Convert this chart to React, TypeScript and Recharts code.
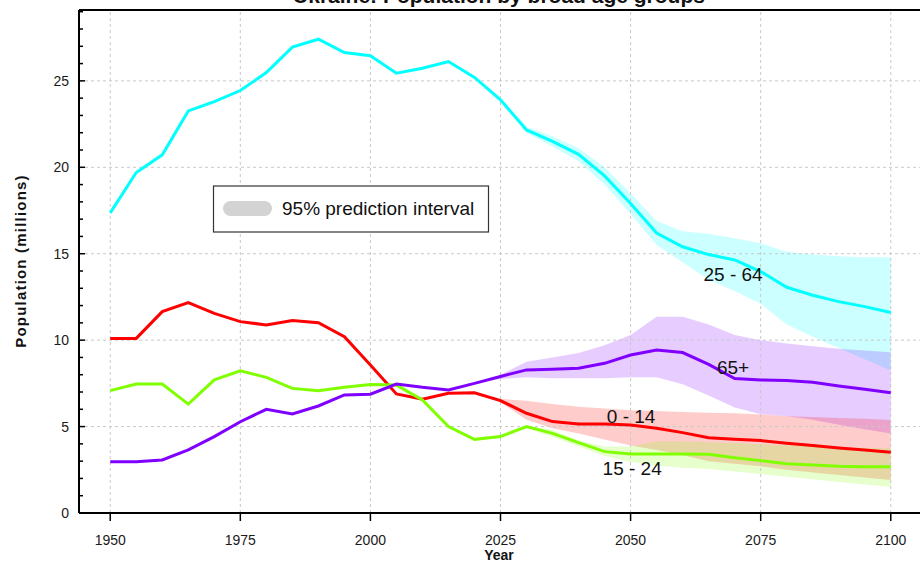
import { ComposedChart, Line, Area, XAxis, YAxis, ReferenceLine, ReferenceDot } from "recharts";

const years = [
  1950, 1955, 1960, 1965, 1970, 1975, 1980, 1985, 1990, 1995, 2000, 2005, 2010, 2015, 2020, 2025,
  2030, 2035, 2040, 2045, 2050, 2055, 2060, 2065, 2070, 2075, 2080, 2085, 2090, 2095, 2100,
];

const pop0to14 = [
  10.1, 10.1, 11.65, 12.17, 11.55, 11.07, 10.88, 11.13, 11.01, 10.2, 8.56, 6.89, 6.58, 6.93, 6.96, 6.5,
  5.77, 5.29, 5.15, 5.15, 5.09, 4.9, 4.65, 4.35, 4.27, 4.19, 4.03, 3.9, 3.76, 3.65, 3.51,
];
const pop15to24 = [
  7.08, 7.46, 7.46, 6.3, 7.7, 8.22, 7.85, 7.21, 7.08, 7.27, 7.44, 7.4, 6.54, 5.0, 4.26, 4.42,
  5.0, 4.61, 4.07, 3.55, 3.41, 3.41, 3.41, 3.4, 3.2, 3.03, 2.85, 2.78, 2.7, 2.68, 2.68,
];
const pop25to64 = [
  17.36, 19.7, 20.72, 23.26, 23.8, 24.44, 25.48, 26.95, 27.41, 26.64, 26.45, 25.44, 25.73, 26.12, 25.2, 23.9,
  22.16, 21.5, 20.75, 19.5, 17.9, 16.2, 15.4, 14.95, 14.64, 13.97, 13.06, 12.6, 12.23, 11.94, 11.6,
];
const pop65plus = [
  2.97, 2.97, 3.07, 3.65, 4.42, 5.28, 6.0, 5.73, 6.19, 6.83, 6.87, 7.46, 7.27, 7.12, 7.5, 7.9,
  8.28, 8.32, 8.37, 8.66, 9.14, 9.43, 9.28, 8.6, 7.78, 7.7, 7.66, 7.56, 7.35, 7.16, 6.96,
];

// 95% prediction intervals, from 2020 on
const projYears = [2020, 2025, 2030, 2035, 2040, 2045, 2050, 2055, 2060, 2065, 2070, 2075, 2080, 2085, 2090, 2095, 2100];
const low25to64 = [25.2, 23.85, 22.0, 21.2, 20.35, 19.0, 17.3, 15.5, 14.5, 13.5, 12.85, 12.1, 10.9, 10.2, 9.55, 8.9, 8.24];
const high25to64 = [25.2, 24.0, 22.35, 21.8, 21.1, 20.0, 18.5, 16.9, 16.3, 16.15, 15.9, 15.6, 15.12, 14.95, 14.85, 14.8, 14.8];
const low65plus = [7.5, 7.75, 7.85, 7.8, 7.8, 7.8, 7.85, 7.85, 7.45, 6.8, 6.1, 5.72, 5.6, 5.4, 5.1, 4.85, 4.6];
const high65plus = [7.5, 8.0, 8.75, 9.0, 9.25, 9.7, 10.3, 11.35, 11.35, 10.9, 10.3, 10.0, 9.8, 9.65, 9.5, 9.4, 9.3];
const low0to14 = [6.96, 6.4, 5.4, 4.9, 4.6, 4.25, 3.9, 3.65, 3.35, 3.0, 2.85, 2.7, 2.5, 2.35, 2.2, 2.05, 1.91];
const high0to14 = [6.96, 6.6, 6.5, 6.3, 6.15, 6.05, 5.95, 5.9, 5.85, 5.8, 5.77, 5.7, 5.6, 5.55, 5.5, 5.45, 5.38];
const low15to24 = [4.26, 4.42, 4.9, 4.4, 3.85, 3.3, 2.95, 2.75, 2.62, 2.55, 2.4, 2.25, 2.1, 1.95, 1.8, 1.65, 1.52];
const high15to24 = [4.26, 4.42, 5.05, 4.8, 4.2, 3.85, 3.85, 4.15, 4.15, 4.1, 4.05, 3.98, 3.92, 3.86, 3.8, 3.76, 3.74];

const xTicks = [1950, 1975, 2000, 2025, 2050, 2075, 2100];
const yTicks = [0, 1, 2, 3, 4, 5, 6, 7, 8, 9, 10, 11, 12, 13, 14, 15, 16, 17, 18, 19, 20, 21, 22, 23, 24, 25, 26, 27, 28, 29];
const yGrid = [5, 10, 15, 20, 25];
const Y_MAX = 29.1;

const seriesLabels = [
  { text: "25 - 64", year: 2069.7, value: 13.83 },
  { text: "65+", year: 2069.7, value: 8.45 },
  { text: "0 - 14", year: 2050.1, value: 5.57 },
  { text: "15 - 24", year: 2050.3, value: 2.59 },
];

const CYAN = "#00ffff";
const RED = "#ff0000";
const GREEN = "#80ff00";
const PURPLE = "#8000ff";
const FONT = "'Liberation Sans', Arial, sans-serif";

const band = (lows: number[], highs: number[], year: number) => {
  const i = projYears.indexOf(year);
  return i < 0 ? undefined : [lows[i], highs[i]];
};

const data = years.map((year, i) => ({
  year,
  a: pop0to14[i],
  b: pop15to24[i],
  c: pop25to64[i],
  d: pop65plus[i],
  aBand: band(low0to14, high0to14, year),
  bBand: band(low15to24, high15to24, year),
  cBand: band(low25to64, high25to64, year),
  dBand: band(low65plus, high65plus, year),
}));

const YTick = (props: any) => {
  const { x, y, payload } = props;
  const major = payload.value % 5 === 0;
  return (
    <g>
      <line x1={x} x2={x + (major ? 6 : 4)} y1={y} y2={y} stroke="#000" strokeWidth={1.5} />
      {major && (
        <text x={x - 10} y={y + 5} textAnchor="end" fontSize={14} fill="#1a1a1a" fontFamily={FONT}>
          {payload.value}
        </text>
      )}
    </g>
  );
};

const XTick = (props: any) => {
  const { x, y, payload } = props;
  return (
    <text x={x} y={y + 24} textAnchor="middle" fontSize={14} fill="#1a1a1a" fontFamily={FONT}>
      {payload.value}
    </text>
  );
};

export default function App() {
  return (
    <div
      style={{
        position: "absolute",
        left: 0,
        top: 0,
        width: 920,
        height: 562,
        overflow: "hidden",
        background: "#fff",
        fontFamily: FONT,
      }}
    >
      <ComposedChart width={922} height={562} data={data} margin={{ top: 10, right: 0, bottom: 0, left: 0 }}>
        <XAxis
          type="number"
          dataKey="year"
          domain={[1944, 2106]}
          ticks={xTicks}
          allowDataOverflow
          height={49}
          tickSize={8}
          tickMargin={0}
          tickLine={{ stroke: "#000", strokeWidth: 1.5 }}
          axisLine={{ stroke: "#000", strokeWidth: 2 }}
          tick={<XTick />}
        />
        <YAxis
          type="number"
          domain={[0, Y_MAX]}
          ticks={yTicks}
          allowDataOverflow
          width={79}
          tickSize={0}
          tickMargin={0}
          tickLine={false}
          axisLine={{ stroke: "#000", strokeWidth: 2 }}
          tick={<YTick />}
          interval={0}
        />
        {xTicks.map((t) => (
          <ReferenceLine key={"vx" + t} x={t} stroke="#c8c8c8" strokeDasharray="3 3" />
        ))}
        {yGrid.map((t) => (
          <ReferenceLine key={"hy" + t} y={t} stroke="#c8c8c8" strokeDasharray="3 3" />
        ))}
        <ReferenceLine y={Y_MAX} stroke="#000" strokeWidth={2} />

        <Area dataKey="cBand" stroke="none" fill={CYAN} fillOpacity={0.2} isAnimationActive={false} />
        <Area dataKey="dBand" stroke="none" fill={PURPLE} fillOpacity={0.2} isAnimationActive={false} />
        <Area dataKey="aBand" stroke="none" fill={RED} fillOpacity={0.2} isAnimationActive={false} />
        <Area dataKey="bBand" stroke="none" fill={GREEN} fillOpacity={0.2} isAnimationActive={false} />

        <Line dataKey="c" stroke={CYAN} strokeWidth={3} dot={false} isAnimationActive={false} />
        <Line dataKey="a" stroke={RED} strokeWidth={3} dot={false} isAnimationActive={false} />
        <Line dataKey="b" stroke={GREEN} strokeWidth={3} dot={false} isAnimationActive={false} />
        <Line dataKey="d" stroke={PURPLE} strokeWidth={3} dot={false} isAnimationActive={false} />

        {seriesLabels.map((l) => (
          <ReferenceDot
            key={l.text}
            x={l.year}
            y={l.value}
            r={1}
            fill="none"
            stroke="none"
            label={{ value: l.text, position: "center", fontSize: 19, fill: "#111", fontFamily: FONT }}
          />
        ))}
      </ComposedChart>

      <svg
        width={920}
        height={562}
        style={{ position: "absolute", left: 0, top: 0, pointerEvents: "none" }}
      >
        <text x={499} y={3} textAnchor="middle" fontSize={21} fontWeight="bold" fill="#111" fontFamily={FONT}>
          Ukraine: Population by broad age groups
        </text>
        <text
          transform="translate(20,261) rotate(-90)"
          textAnchor="middle"
          dominantBaseline="central"
          fontSize={15}
          fontWeight="bold"
          letterSpacing={1.2}
          fill="#111"
          fontFamily={FONT}
        >
          Population (millions)
        </text>
        <text x={499} y={560} textAnchor="middle" fontSize={14} fontWeight="bold" fill="#111" fontFamily={FONT}>
          Year
        </text>
        <rect x={213.5} y={186} width={275} height={46} fill="#fff" stroke="#333" strokeWidth={1.2} />
        <rect x={223} y={201} width={49} height={15} rx={7.5} fill="#d3d3d3" />
        <text x={282} y={208.5} dominantBaseline="central" fontSize={19} fill="#111" fontFamily={FONT}>
          95% prediction interval
        </text>
      </svg>
    </div>
  );
}
